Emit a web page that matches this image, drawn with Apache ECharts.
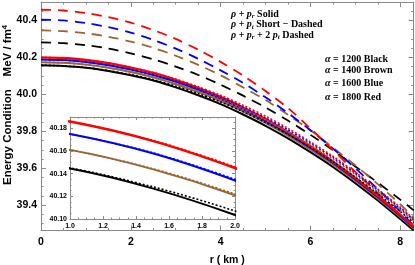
<!DOCTYPE html>
<html><head><meta charset="utf-8">
<script src="https://cdn.jsdelivr.net/npm/echarts@6/dist/echarts.min.js"></script>
<style>html,body{margin:0;padding:0;background:#fff}#c{width:415px;height:265px}</style>
</head><body><div id="c"></div>
<script>
// radial coordinate r (km)
const r = [0,0.5,1,1.5,2,2.5,3,3.5,4,4.5,5,5.5,6,6.5,7,7.5,8,8.3];
// rho + p_r (solid)
const solidBlack = [40.158,40.154,40.1445,40.127,40.1035,40.075,40.038,39.995,39.947,39.891,39.830,39.762,39.687,39.607,39.519,39.425,39.325,39.263];
const solidBrown = [40.174,40.1705,40.161,40.144,40.121,40.092,40.055,40.012,39.964,39.908,39.846,39.777,39.701,39.621,39.532,39.437,39.336,39.273];
const solidBlue  = [40.189,40.1855,40.175,40.158,40.134,40.105,40.068,40.025,39.976,39.919,39.857,39.788,39.711,39.630,39.540,39.445,39.343,39.279];
const solidRed   = [40.200,40.1965,40.186,40.169,40.145,40.116,40.079,40.035,39.986,39.929,39.866,39.796,39.719,39.637,39.547,39.451,39.349,39.284];
// rho + p_t (short dashed)
const shortBlack = [40.158,40.154,40.145,40.1285,40.107,40.080,40.0445,40.004,39.959,39.906,39.848,39.783,39.712,39.636,39.552,39.462,39.366,39.306];
const shortBrown = [40.174,40.1705,40.161,40.1445,40.122,40.094,40.059,40.018,39.973,39.920,39.862,39.797,39.725,39.649,39.564,39.473,39.376,39.315];
const shortBlue  = [40.189,40.1855,40.175,40.1585,40.135,40.107,40.072,40.031,39.985,39.931,39.873,39.808,39.735,39.658,39.572,39.481,39.383,39.321];
const shortRed   = [40.200,40.1965,40.186,40.1695,40.146,40.118,40.083,40.041,39.995,39.941,39.882,39.816,39.743,39.665,39.579,39.487,39.389,39.326];
// rho + p_r + 2 p_t (dashed)
const dashBlack = [40.281,40.277,40.266,40.248,40.222,40.190,40.150,40.105,40.052,39.993,39.929,39.858,39.781,39.698,39.610,39.522,39.430,39.372];
const dashBrown = [40.346,40.342,40.331,40.312,40.286,40.252,40.209,40.160,40.103,40.038,39.969,39.889,39.806,39.712,39.616,39.514,39.405,39.333];
const dashBlue  = [40.404,40.400,40.386,40.364,40.334,40.295,40.248,40.193,40.130,40.062,39.984,39.899,39.806,39.707,39.600,39.487,39.367,39.288];
const dashRed   = [40.458,40.454,40.440,40.418,40.388,40.348,40.300,40.242,40.176,40.102,40.018,39.926,39.815,39.700,39.580,39.465,39.345,39.270];

// tick labels
const xMainTicks = [0,2,4,6,8];
const yMainTicks = [39.4,39.6,39.8,40.0,40.2,40.4];
const xInsetTicks = [1.0,1.2,1.4,1.6,1.8,2.0];
const yInsetTicks = [40.10,40.12,40.14,40.16,40.18];

function minorList(from, to, step, majors, dec){
  const out=[]; const n=Math.round((to-from)/step);
  for(let i=0;i<=n;i++){const v=+(from+i*step).toFixed(dec); if(!majors.some(m=>Math.abs(m-v)<step/10)) out.push(v);}
  return out;
}
const xMainMinor = minorList(0,8.3,0.5,xMainTicks,2);
const yMainMinor = minorList(39.3,40.5,0.05,yMainTicks,3);
const xInsetMinor = minorList(1,2,0.05,xInsetTicks,3);
const yInsetMinor = minorList(40.10,40.19,0.005,yInsetTicks,4);

const frame = '#8a8a8a';
function ax(o){
  return {
    type:'value', min:o.min, max:o.max, gridIndex:o.grid, position:o.pos,
    splitLine:{show:false},
    axisLine:{show:!!o.line, onZero:false, lineStyle:{color:frame,width:1}},
    axisTick:{show:true, inside:true, length:o.len, customValues:o.ticks, lineStyle:{color:frame,width:1}},
    axisLabel:o.fmt ? {show:true, customValues:o.ticks, formatter:o.fmt, color:'#000', fontWeight:'bold',
      fontSize:o.fs, fontFamily:'Liberation Sans', margin:o.margin} : {show:false},
    name:o.name||'', nameLocation:'middle', nameGap:o.nameGap||0,
    nameTextStyle:{color:'#000', fontWeight:'bold', fontSize:10.5, fontFamily:'Liberation Sans'}
  };
}
const XM={min:0,max:8.3,grid:0}, YM={min:39.263,max:40.5,grid:0};
const XI={min:1,max:2,grid:1}, YI={min:40.10,max:40.19,grid:1};
const xAxis = [
  ax({...XM,pos:'bottom',line:1,len:5,ticks:xMainTicks,fmt:v=>v.toFixed(0),fs:10.5,margin:6,name:'r ( km )',nameGap:24}),
  ax({...XM,pos:'bottom',len:2.5,ticks:xMainMinor}),
  ax({...XM,pos:'top',line:1,len:5,ticks:xMainTicks}),
  ax({...XM,pos:'top',len:2.5,ticks:xMainMinor}),
  ax({...XI,pos:'bottom',line:1,len:3,ticks:xInsetTicks,fmt:v=>v.toFixed(1),fs:7,margin:4}),
  ax({...XI,pos:'bottom',len:1.5,ticks:xInsetMinor}),
  ax({...XI,pos:'top',line:1,len:3,ticks:xInsetTicks}),
  ax({...XI,pos:'top',len:1.5,ticks:xInsetMinor})
];
const yAxis = [
  ax({...YM,pos:'left',line:1,len:5,ticks:yMainTicks,fmt:v=>v.toFixed(1),fs:10.5,margin:4}),
  ax({...YM,pos:'left',len:2.5,ticks:yMainMinor}),
  ax({...YM,pos:'right',line:1,len:5,ticks:yMainTicks}),
  ax({...YM,pos:'right',len:2.5,ticks:yMainMinor}),
  ax({...YI,pos:'left',line:1,len:3,ticks:yInsetTicks,fmt:v=>v.toFixed(2),fs:7,margin:3}),
  ax({...YI,pos:'left',len:1.5,ticks:yInsetMinor}),
  ax({...YI,pos:'right',line:1,len:3,ticks:yInsetTicks}),
  ax({...YI,pos:'right',len:1.5,ticks:yInsetMinor})
];

const BLACK='#000000', BROWN='#996633', BLUE='#0000ff', RED='#ff0000';
function pts(ys){return r.map((x,i)=>[x,ys[i]]);}
function line(ys,color,kind,xi,yi){
  const ls = kind==='solid' ? {width:color===RED?2.4:2,type:'solid'} : kind==='short' ? {width:1.6,type:[2,2]} : {width:1.8,type:[10,7]};
  return {type:'line', xAxisIndex:xi, yAxisIndex:yi, data:pts(ys), showSymbol:false, symbol:'none', smooth:0.3,
    lineStyle:Object.assign({color:color},ls), silent:true, animation:false};
}
const series = [];
[[dashBlack,BLACK],[dashBrown,BROWN],[dashBlue,BLUE],[dashRed,RED]].forEach(([d,c])=>series.push(line(d,c,'dash',0,0)));
[[solidBlack,BLACK],[solidBrown,BROWN],[solidBlue,BLUE],[solidRed,RED]].forEach(([d,c])=>series.push(line(d,c,'solid',0,0)));
[[shortBlack,BLACK],[shortBrown,BROWN],[shortBlue,BLUE],[shortRed,RED]].forEach(([d,c])=>series.push(line(d,c,'short',0,0)));
[[solidBlack,BLACK],[solidBrown,BROWN],[solidBlue,BLUE],[solidRed,RED]].forEach(([d,c])=>series.push(line(d,c,'solid',4,4)));
[[shortBlack,BLACK],[shortBrown,BROWN],[shortBlue,BLUE],[shortRed,RED]].forEach(([d,c])=>series.push(line(d,c,'short',4,4)));

const serif = 'bold 10px "Liberation Serif"';
const rich = {
  i:{fontStyle:'italic', fontWeight:'bold', fontSize:10, fontFamily:'Liberation Serif', lineHeight:12, verticalAlign:'middle'},
  s:{fontStyle:'italic', fontWeight:'bold', fontSize:7, fontFamily:'Liberation Serif', lineHeight:12, verticalAlign:'bottom'},
  n:{fontWeight:'bold', fontSize:10, fontFamily:'Liberation Serif', lineHeight:12, verticalAlign:'middle'}
};
function label(x,y,text){
  return {type:'text', x:x, y:y, silent:true, style:{text:text, font:serif, fill:'#000', align:'left', verticalAlign:'middle', rich:rich}};
}
const legendLines = [
  '{i|ρ}{n| + }{i|p}{s|r}{n| Solid}',
  '{i|ρ}{n| + }{i|p}{s|t}{n| Short − Dashed}',
  '{i|ρ}{n| + }{i|p}{s|r}{n| + 2 }{i|p}{s|t}{n| Dashed}'
];
const alphaLines = ['{i|α}{n| = 1200 Black}','{i|α}{n| = 1400 Brown}','{i|α}{n| = 1600 Blue}','{i|α}{n| = 1800 Red}'];
const graphic = [
  label(231,14,legendLines[0]), label(231,24.5,legendLines[1]), label(231,35,legendLines[2]),
  label(325,59,alphaLines[0]), label(325,70.5,alphaLines[1]), label(325,83,alphaLines[2]), label(325,97,alphaLines[3]),
  {type:'text', x:8, y:105, rotation:Math.PI/2, silent:true,
   style:{text:'{n|Energy Condition    MeV / fm}{p|4}', fill:'#000', align:'center', verticalAlign:'middle',
     rich:{n:{fontWeight:'bold', fontSize:11.5, fontFamily:'Liberation Sans', lineHeight:14, verticalAlign:'middle'},
           p:{fontWeight:'bold', fontSize:7.5, fontFamily:'Liberation Sans', lineHeight:14, verticalAlign:'top'}}}}
];

const chart = echarts.init(document.getElementById('c'), null, {renderer:'canvas'});
chart.setOption({
  animation:false,
  backgroundColor:'#fff',
  grid:[
    {left:41, top:2, width:372.7, height:228.5, containLabel:false, outerBoundsMode:'none'},
    {left:70, top:117, width:165, height:102, show:true, backgroundColor:'#fff', borderWidth:0, outerBoundsMode:'none'}
  ],
  xAxis:xAxis, yAxis:yAxis, series:series, graphic:graphic
});
</script></body></html>
